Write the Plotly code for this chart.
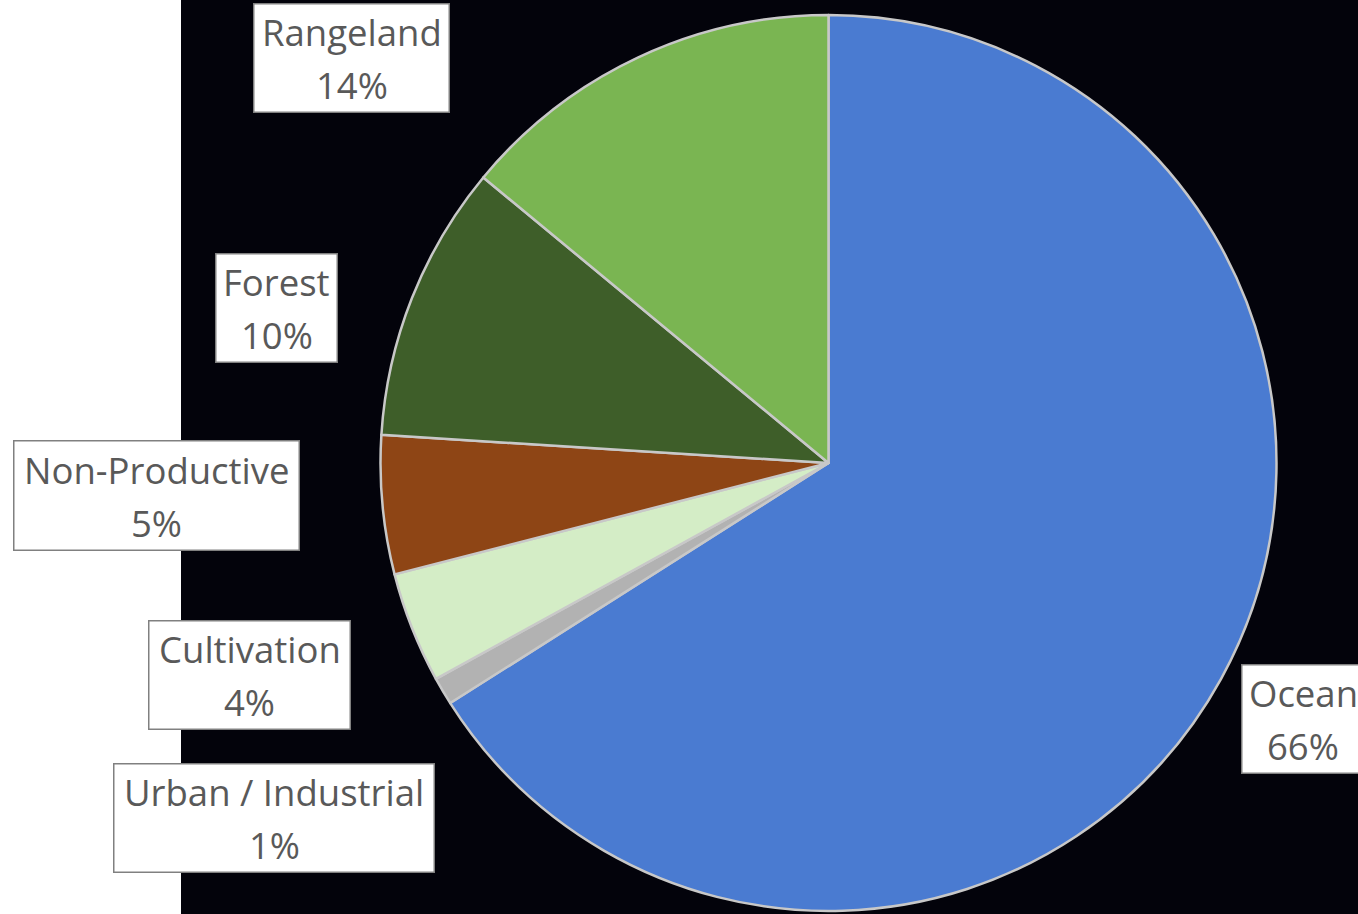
import plotly.graph_objects as go

# Land / water use shares (percent)
categories = ["Ocean", "Urban / Industrial", "Cultivation", "Non-Productive", "Forest", "Rangeland"]
shares = [66, 1, 4, 5, 10, 14]
slice_colors = ["#4A7BD1", "#B2B2B2", "#D4EDC6", "#8E4515", "#3E5E29", "#7AB552"]

W, H = 1358, 914

# label box geometry in pixels: centre x, centre y, width, height
label_boxes = {
    "Rangeland": (351.5, 58, 197, 110),
    "Forest": (276.5, 308, 123, 110),
    "Non-Productive": (156.5, 495.5, 287, 111),
    "Cultivation": (249.5, 675, 203, 110),
    "Urban / Industrial": (274, 818, 322, 110),
    "Ocean": (1303, 719, 124, 110),
}

FONT = "Open Sans"
FONT_SIZE = 36.5
TEXT_COLOR = "#595959"

fig = go.Figure()

# pie geometry: centre (828.5, 463) px, radius 448 px
cx, cy, r = 828.5, 463, 448
fig.add_trace(go.Pie(
    labels=categories,
    values=shares,
    sort=False,
    direction="clockwise",
    rotation=0,
    marker=dict(colors=slice_colors, line=dict(color="#C8C8C8", width=2.5)),
    textinfo="none",
    hoverinfo="skip",
    showlegend=False,
    domain=dict(x=[(cx - r) / W, (cx + r) / W], y=[1 - (cy + r) / H, 1 - (cy - r) / H]),
))

annotations = []
for name, val in zip(categories, shares):
    bx, by, bw, bh = label_boxes[name]
    # framed white box
    annotations.append(dict(
        x=bx / W, y=1 - by / H, xref="paper", yref="paper",
        text=" ", showarrow=False, width=bw - 3, height=bh - 3,
        bgcolor="white", bordercolor="#808080", borderwidth=1.5, borderpad=0,
        xanchor="center", yanchor="middle",
    ))
    # category name and percentage
    annotations.append(dict(
        x=bx / W, y=1 - (by - 26) / H, xref="paper", yref="paper",
        text=name, showarrow=False, xanchor="center", yanchor="middle",
        font=dict(family=FONT, size=FONT_SIZE, color=TEXT_COLOR),
    ))
    annotations.append(dict(
        x=bx / W, y=1 - (by + 27) / H, xref="paper", yref="paper",
        text=f"{val}%", showarrow=False, xanchor="center", yanchor="middle",
        font=dict(family=FONT, size=FONT_SIZE, color=TEXT_COLOR),
    ))

fig.update_layout(
    width=W, height=H,
    margin=dict(l=0, r=0, t=0, b=0),
    paper_bgcolor="white",
    plot_bgcolor="white",
    annotations=annotations,
    shapes=[dict(
        type="rect", xref="paper", yref="paper",
        x0=181 / W, x1=1, y0=0, y1=1,
        fillcolor="#03030B", line=dict(width=0), layer="below",
    )],
)

fig.write_html("out.html")
